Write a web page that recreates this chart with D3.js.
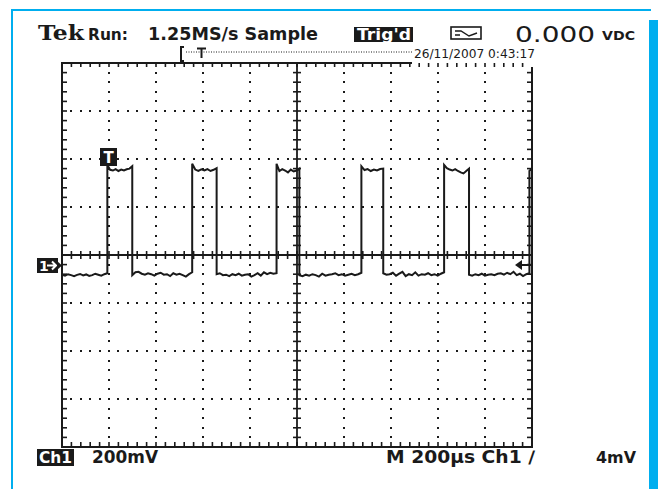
<!DOCTYPE html>
<html><head><meta charset="utf-8">
<script src="https://cdn.jsdelivr.net/npm/d3@7"></script>
<style>html,body{margin:0;padding:0;background:#fff;overflow:hidden}</style>
</head><body>
<svg id="c" width="658" height="489"></svg>
<script>
// ---- data ----
const timeDomain = [0, 2000];          // µs across screen (10 div x 200µs)
const voltDomain = [-800, 800];        // mV (8 div x 200mV)
const divTime = 200, divVolt = 200, minorPerDiv = 5;
const edgeTimes = [193, 299, 554, 658, 913, 1010, 1274, 1367, 1626, 1732, 1989, 2000];
const lowSegments = [
  [-82,-86,-80,-84,-88,-83,-79,-85,-81,-87,-84,-78,-82,-86,-80,-76],
  [-84,-72,-70,-78,-82,-76,-80,-86,-78,-74,-82,-80,-88,-76,-82,-78,-84,-90,-80,-72],
  [-80,-76,-84,-82,-88,-80,-84,-78,-86,-82,-80,-90,-84,-76,-86,-72,-80,-74,-78,-76],
  [-84,-88,-82,-86,-80,-84,-90,-78,-86,-82,-80,-76,-84,-80,-86,-82,-78,-84,-80,-74],
  [-76,-82,-80,-74,-86,-78,-70,-88,-80,-84,-72,-86,-80,-82,-76,-84,-80,-86,-78,-72],
  [-82,-86,-80,-84,-78,-86,-82,-80,-84,-78,-76,-82,-74,-80,-70,-84,-78,-88,-80,-76]
];
const highSegments = [
  [375,355,352,358,350,356,352,357,360,370],
  [380,356,350,357,352,358,350,355,362],
  [380,350,358,352,344,356,348,352,360],
  [370,354,358,350,356,352,358,360],
  [375,362,356,352,358,350,344,340,350,360],
  [350,360]
];
const headerTexts = ["Tek", "Run:", "1.25MS/s Sample", "Trig'd", "0.000", "VDC"];
const dateText = "26/11/2007 0:43:17";
const footerTexts = ["Ch1", "200mV", "M 200\u00b5s Ch1 \u2215", "4mV"];

// ---- build trace points ----
const trace = [];
let start = 0;
for (let i = 0; i < 6; i++) {
  const segs = [[lowSegments[i], start, edgeTimes[2*i]], [highSegments[i], edgeTimes[2*i], edgeTimes[2*i+1]]];
  segs.forEach(([vals, s, e]) => {
    vals.forEach((v, j) => trace.push([s + (e - s) * j / (vals.length - 1), v]));
  });
  start = edgeTimes[2*i+1];
}

const svg = d3.select("#c");
const L = 62, R = 532, T = 63, B = 447;
const x = d3.scaleLinear().domain(timeDomain).range([L, R]);
const y = d3.scaleLinear().domain(voltDomain).range([B, T]);
const blue = "#00aeef", ink = "#1a1a1a";

// blue border
svg.append("rect").attr("x", 11).attr("y", 10).attr("width", 2).attr("height", 479).attr("fill", blue);
svg.append("rect").attr("x", 11).attr("y", 9).attr("width", 640).attr("height", 2).attr("fill", blue);
svg.append("rect").attr("x", 649).attr("y", 20).attr("width", 9).attr("height", 469).attr("fill", blue);

const g = svg.append("g");
const minorT = d3.range(timeDomain[0], timeDomain[1] + 1, divTime / minorPerDiv);
const minorV = d3.range(voltDomain[0], voltDomain[1] + 1, divVolt / minorPerDiv);
const majorT = d3.range(timeDomain[0] + divTime, timeDomain[1], divTime).filter(t => t !== 1000);
const majorV = d3.range(voltDomain[0] + divVolt, voltDomain[1], divVolt).filter(v => v !== 0);

// dotted grid
majorT.forEach(t => minorV.slice(1, -1).forEach(v => {
  if (v === 0) return;
  g.append("rect").attr("x", Math.round(x(t)) - 1).attr("y", Math.round(y(v)) - 1).attr("width", 2).attr("height", 2).attr("fill", ink);
}));
majorV.forEach(v => minorT.slice(1, -1).forEach(t => {
  if (t % divTime === 0) return;
  g.append("rect").attr("x", Math.round(x(t)) - 1).attr("y", Math.round(y(v)) - 1).attr("width", 2).attr("height", 2).attr("fill", ink);
}));

// frame
const line = (x1, y1, x2, y2, w) => g.append("line").attr("x1", x1).attr("y1", y1).attr("x2", x2).attr("y2", y2).attr("stroke", ink).attr("stroke-width", w || 2);
line(L, T, L, B + 1);
line(L - 1, B, R + 1, B);
line(R, 67, R, B + 1);
line(L - 1, T, 412, T);
// frame ticks
minorT.slice(1, -1).forEach(t => {
  line(x(t), B, x(t), B - 5, 1.6);
  line(x(t), T, x(t), T + 4, 1.6);
});
minorV.slice(1, -1).forEach(v => {
  line(L, y(v), L + 5, y(v), 1.6);
  if (y(v) > 67) line(R, y(v), R - 5, y(v), 1.6);
});
// centre cross
line(L, y(0), R, y(0), 1.8);
line(x(1000), T, x(1000), B, 1.8);
minorT.slice(1, -1).forEach(t => line(x(t), y(0) - 4, x(t), y(0) + 4, 1.6));
minorV.slice(1, -1).forEach(v => line(x(1000) - 4, y(v), x(1000) + 4, y(v), 1.6));

// trace
svg.append("path").datum(trace)
  .attr("d", d3.line().x(d => x(d[0])).y(d => y(d[1])))
  .attr("fill", "none").attr("stroke", ink).attr("stroke-width", 2).attr("stroke-linejoin", "miter");

// markers
// trigger position T box
svg.append("rect").attr("x", 100).attr("y", 148).attr("width", 17).attr("height", 18).attr("fill", ink);
svg.append("text").attr("x", 108.5).attr("y", 163).attr("text-anchor", "middle").attr("fill", "#fff")
  .attr("font-family", "DejaVu Sans").attr("font-weight", "bold").attr("font-size", 15).text("T");
// ground marker 1→
svg.append("rect").attr("x", 37).attr("y", 258).attr("width", 21).attr("height", 15).attr("fill", ink);
svg.append("text").attr("x", 39).attr("y", 271).attr("fill", "#fff")
  .attr("font-family", "DejaVu Sans").attr("font-weight", "bold").attr("font-size", 14).text("1");
svg.append("path").attr("d", "M47,265.5 H55 M52,261.5 L56,265.5 L52,269.5").attr("stroke", "#fff").attr("stroke-width", 2).attr("fill", "none");
svg.append("path").attr("d", "M57,261 L62,265.5 L57,270 Z").attr("fill", ink);
// trigger level arrow
svg.append("path").attr("d", "M531,265 H520").attr("stroke", ink).attr("stroke-width", 2);
svg.append("path").attr("d", "M515,265 L522,260 L522,270 Z").attr("fill", ink);

// header
const txt = (s, xx, yy, size, opts) => {
  opts = opts || {};
  const t = svg.append("text").attr("x", xx).attr("y", yy).attr("font-size", size)
    .attr("font-family", opts.family || "DejaVu Sans").attr("font-weight", opts.weight || "bold")
    .attr("fill", opts.fill || ink).text(s);
  if (opts.len) t.attr("textLength", opts.len).attr("lengthAdjust", "spacingAndGlyphs");
  return t;
};
txt(headerTexts[0], 38, 40, 21, {family: "DejaVu Serif", len: 46});
txt(headerTexts[1], 88, 40, 15, {len: 40});
txt(headerTexts[2], 148, 40, 17, {len: 170});
svg.append("rect").attr("x", 354).attr("y", 27).attr("width", 59).attr("height", 15).attr("fill", ink);
txt(headerTexts[3], 357, 40, 15, {fill: "#fff", len: 54});
// meter icon
svg.append("rect").attr("x", 451).attr("y", 27).attr("width", 30).attr("height", 12).attr("fill", "none").attr("stroke", ink).attr("stroke-width", 1.6);
svg.append("path").attr("d", "M455,31 L461,31 L469,36 L477,33 M455,35 L460,35").attr("fill", "none").attr("stroke", ink).attr("stroke-width", 1.4);
txt(headerTexts[4], 515, 42, 21, {weight: "normal", len: 80});
txt(headerTexts[5], 602, 40, 13, {len: 33});
// trigger bracket & dotted line
svg.append("path").attr("d", "M184,47 H181 V61 H184").attr("fill", "none").attr("stroke", ink).attr("stroke-width", 2);
svg.append("line").attr("x1", 186).attr("y1", 52).attr("x2", 412).attr("y2", 52).attr("stroke", ink).attr("stroke-width", 1).attr("stroke-dasharray", "1,1.5");
svg.append("path").attr("d", "M197,48.5 H206 M201.5,48.5 V58").attr("fill", "none").attr("stroke", ink).attr("stroke-width", 2);
txt(dateText, 414, 58, 12, {weight: "normal", len: 121});

// footer
svg.append("rect").attr("x", 37).attr("y", 449).attr("width", 37).attr("height", 17).attr("fill", ink);
txt(footerTexts[0], 39, 463, 15, {fill: "#fff", len: 33});
txt(footerTexts[1], 92, 463, 17, {len: 66});
txt(footerTexts[2], 386, 463, 17, {len: 149});
txt(footerTexts[3], 596, 463, 15, {len: 40});
</script>
</body></html>
